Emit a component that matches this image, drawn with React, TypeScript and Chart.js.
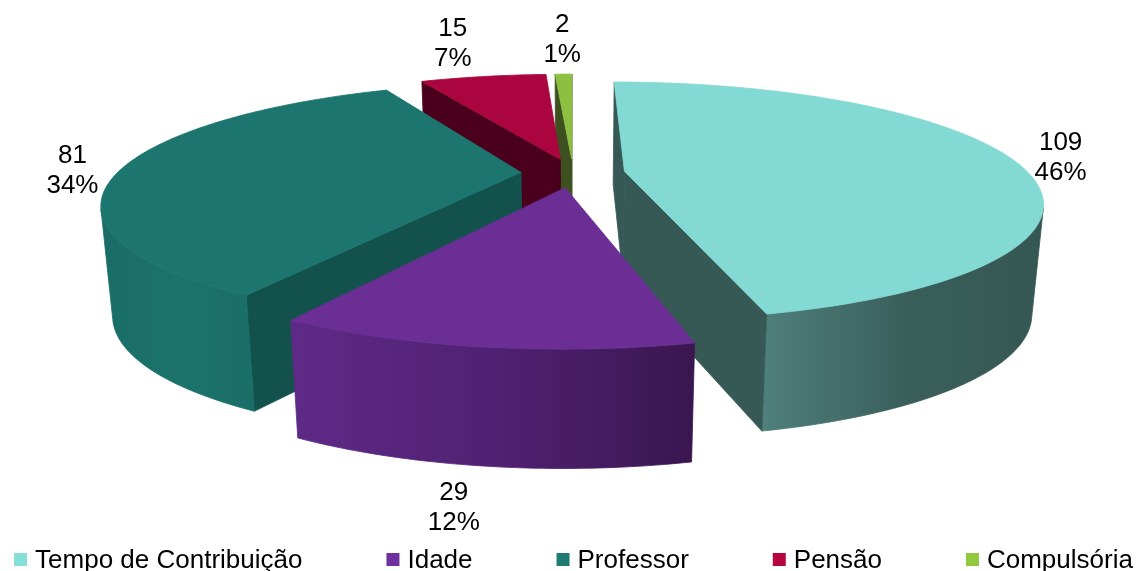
import React, { useEffect, useRef } from 'react';
import { Chart, registerables } from 'chart.js';

Chart.register(...registerables);

// ---- data ----
const categories = ['Tempo de Contribuição', 'Idade', 'Professor', 'Pensão', 'Compulsória'];
const values = [109, 29, 81, 15, 2];
const percentLabels = ['46%', '12%', '34%', '7%', '1%'];

// ---- styles ----
const topColors = ['#83D9D3', '#6A2E95', '#1C766F', '#AA053F', '#8DC040'];
const cutColors = ['#365956', '#3E1A58', '#13524C', '#4A001C', '#3D5020'];
const wallStops = [
  ['#4F807C', '#3A5F5B', '#355754'],
  ['#5E2A87', '#502172', '#3A1650'],
  ['#1A6D67', '#1B736C', '#1A6E68'],
  ['#4A001C', '#4A001C', '#4A001C'],
  ['#3D5020', '#3D5020', '#3D5020'],
];
const legendColors = ['#86DED8', '#7030A0', '#1F7B74', '#B5063F', '#92C83E'];
const labelShiftX = [0, -22, 0, -18, 0];

const FONT = '26px "Liberation Sans", Arial, sans-serif';

// ---- 3D view parameters ----
const V = {
  cx: 573,
  cy: 173,
  dist: 1620,
  tilt: 0.278,
  radius: 404,
  explode: 52,
  shrink: 0.975,
  wallA: 97,
  wallB: 1.064,
};

type P = [number, number];

function projTop(px: number, pz: number): P {
  const g = 1 / (1 - pz / V.dist);
  return [V.cx + px * g, V.cy + V.tilt * pz * g];
}
function projBottom(p: P): P {
  return [V.cx + (p[0] - V.cx) * V.shrink, V.wallA + V.wallB * p[1]];
}
function area(pts: P[]): number {
  let s = 0;
  for (let i = 0; i < pts.length; i++) {
    const a = pts[i];
    const b = pts[(i + 1) % pts.length];
    s += a[0] * b[1] - b[0] * a[1];
  }
  return s / 2;
}
function fillPoly(ctx: CanvasRenderingContext2D, pts: P[], style: any) {
  ctx.beginPath();
  pts.forEach((p, i) => (i === 0 ? ctx.moveTo(p[0], p[1]) : ctx.lineTo(p[0], p[1])));
  ctx.closePath();
  ctx.fillStyle = style;
  ctx.strokeStyle = style;
  ctx.lineWidth = 0.8;
  ctx.lineJoin = 'round';
  ctx.fill();
  ctx.stroke();
}

interface Slice {
  i: number;
  a1: number;
  a2: number;
  m: number;
  ax: number;
  az: number;
}

function sliceGeometry(chart: any): Slice[] {
  const meta = chart.getDatasetMeta(0);
  return meta.data.map((arc: any, i: number) => {
    const p = arc.getProps(['startAngle', 'endAngle'], true);
    const a1 = p.startAngle + Math.PI / 2;
    const a2 = p.endAngle + Math.PI / 2;
    const m = (a1 + a2) / 2;
    return { i, a1, a2, m, ax: V.explode * Math.sin(m), az: -V.explode * Math.cos(m) };
  });
}

function drawSlice(ctx: CanvasRenderingContext2D, s: Slice) {
  const R = V.radius;
  const n = Math.max(2, Math.ceil(((s.a2 - s.a1) * 180) / Math.PI));
  const arcPts: P[] = [];
  for (let k = 0; k <= n; k++) {
    const t = s.a1 + ((s.a2 - s.a1) * k) / n;
    arcPts.push(projTop(s.ax + R * Math.sin(t), s.az - R * Math.cos(t)));
  }
  const apex = projTop(s.ax, s.az);

  const quad = (p1: P, p2: P, color: string) => {
    const q: P[] = [p1, p2, projBottom(p2), projBottom(p1)];
    if (area(q) < 0) fillPoly(ctx, q, color);
  };

  // start cut face
  quad(apex, arcPts[0], cutColors[s.i]);

  // outer wall, visible runs
  const runs: P[][] = [];
  let run: P[] = [];
  for (let k = 0; k < n; k++) {
    const t1 = arcPts[k];
    const t2 = arcPts[k + 1];
    const vis = area([t1, t2, projBottom(t2), projBottom(t1)]) < 0;
    if (vis) {
      if (run.length === 0) run.push(t1);
      run.push(t2);
    } else if (run.length) {
      runs.push(run);
      run = [];
    }
  }
  if (run.length) runs.push(run);
  runs.forEach((r) => {
    const poly: P[] = [...r, ...r.slice().reverse().map(projBottom)];
    const xs = poly.map((p) => p[0]);
    const minX = Math.min(...xs);
    const maxX = Math.max(...xs);
    const grad = ctx.createLinearGradient(minX, 0, maxX + 1, 0);
    const st = wallStops[s.i];
    grad.addColorStop(0, st[0]);
    grad.addColorStop(0.5, st[1]);
    grad.addColorStop(1, st[2]);
    fillPoly(ctx, poly, grad);
  });

  // end cut face
  quad(arcPts[n], apex, cutColors[s.i]);

  // top face
  fillPoly(ctx, [apex, ...arcPts], topColors[s.i]);
}

const pie3d = {
  id: 'pie3d',
  beforeDatasetsDraw(chart: any) {
    const ctx: CanvasRenderingContext2D = chart.ctx;
    const slices = sliceGeometry(chart).filter((s) => s.a2 - s.a1 > 1e-6);
    slices.sort((a, b) => a.az - b.az);
    ctx.save();
    slices.forEach((s) => drawSlice(ctx, s));
    ctx.restore();
    return false;
  },
  afterDraw(chart: any) {
    const ctx: CanvasRenderingContext2D = chart.ctx;
    const data = chart.data.datasets[0].data as number[];
    const slices = sliceGeometry(chart);
    ctx.save();
    ctx.font = FONT;
    ctx.fillStyle = '#000';
    ctx.textAlign = 'center';
    ctx.textBaseline = 'middle';
    slices.forEach((s) => {
      let p = projTop(s.ax + V.radius * Math.sin(s.m), s.az - V.radius * Math.cos(s.m));
      if (Math.cos(s.m) < 0) p = projBottom(p);
      const x = p[0] + Math.sin(s.m) * 50 + labelShiftX[s.i];
      const y = p[1] - Math.cos(s.m) * 38 + 4;
      ctx.fillText(String(data[s.i]), x, y - 15);
      ctx.fillText(percentLabels[s.i], x, y + 15);
    });

    // legend
    const labels = chart.data.labels as string[];
    const box = 13;
    const boxGap = 8;
    const itemGap = 84;
    ctx.textAlign = 'left';
    ctx.textBaseline = 'alphabetic';
    const widths = labels.map((l) => box + boxGap + ctx.measureText(l).width);
    const total = widths.reduce((a, b) => a + b, 0) + itemGap * (labels.length - 1);
    let x = 573.5 - total / 2;
    const baseY = 568;
    labels.forEach((l, i) => {
      ctx.fillStyle = legendColors[i];
      ctx.fillRect(x, baseY - 15, box, box);
      ctx.fillStyle = '#000';
      ctx.fillText(l, x + box + boxGap, baseY);
      x += widths[i] + itemGap;
    });
    ctx.restore();
  },
};

export default function App() {
  const ref = useRef<HTMLCanvasElement | null>(null);
  useEffect(() => {
    document.body.style.margin = '0';
    const canvas = ref.current;
    if (!canvas) return;
    const chart = new Chart(canvas, {
      type: 'pie',
      data: {
        labels: categories,
        datasets: [
          {
            data: values,
            backgroundColor: topColors,
            borderWidth: 0,
          },
        ],
      },
      options: {
        animation: false,
        responsive: true,
        maintainAspectRatio: false,
        plugins: {
          legend: { display: false },
          tooltip: { enabled: false },
        },
      },
      plugins: [pie3d],
    });
    return () => chart.destroy();
  }, []);
  return (
    <div style={{ position: 'relative', width: '1137px', height: '571px', background: '#fff' }}>
      <canvas ref={ref} />
    </div>
  );
}
